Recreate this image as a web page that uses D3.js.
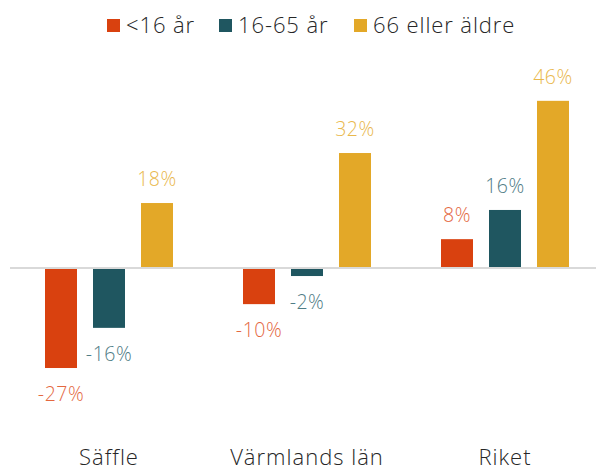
<!DOCTYPE html>
<html><head><meta charset="utf-8">
<script src="https://cdn.jsdelivr.net/npm/d3@7"></script>
<style>
html,body{margin:0;padding:0;background:#fff;}
svg{display:block;font-family:"Open Sans","Noto Sans",sans-serif;font-weight:300;}
</style></head>
<body><svg id="c" width="596" height="470"></svg>
<script>
const categories = ["Säffle", "Värmlands län", "Riket"];
const seriesNames = ["<16 år", "16-65 år", "66 eller äldre"];
const under16 = [-27.4, -9.9, 7.9];
const age16to65 = [-16.4, -2.2, 15.9];
const age66plus = [17.8, 31.5, 45.8];
const seriesValues = [under16, age16to65, age66plus];
const colors = ["#d9410f", "#1f5660", "#e3a828"];
const labelColors = ["#e4683f", "#4f7c85", "#e9b84c"];

const svg = d3.select("#c");
const y = d3.scaleLinear().domain([-30, 50]).range([268 + 30 * 3.65, 268 - 50 * 3.65]);
const x0 = d3.scaleBand().domain(categories).range([10, 604]).padding(0);
const x1 = d3.scaleBand().domain(d3.range(3)).range([27, 171]).paddingInner(1 / 3).paddingOuter(1 / 6);

// zero line
svg.append("line").attr("x1", 10).attr("x2", 596).attr("y1", y(0)).attr("y2", y(0))
  .attr("stroke", "#d9d9d9").attr("stroke-width", 2);

const rows = [];
categories.forEach((c, i) => seriesValues.forEach((s, j) => rows.push({c, j, v: s[i]})));

svg.append("g").selectAll("rect").data(rows).join("rect")
  .attr("x", d => x0(d.c) + x1(d.j))
  .attr("width", x1.bandwidth())
  .attr("y", d => d.v >= 0 ? y(d.v) : y(0) + 1)
  .attr("height", d => d.v >= 0 ? y(0) - 1 - y(d.v) : y(d.v) - y(0) - 1)
  .attr("fill", d => colors[d.j]);

svg.append("g").selectAll("text").data(rows).join("text")
  .attr("x", d => x0(d.c) + x1(d.j) + x1.bandwidth() / 2)
  .attr("y", d => d.v >= 0 ? y(d.v) - 17 : y(d.v) + 33)
  .attr("text-anchor", "middle")
  .attr("font-size", 19.5)
  .attr("letter-spacing", 0.5)
  .attr("fill", d => labelColors[d.j])
  .text(d => Math.round(d.v) + "%");

// category labels
svg.append("g").selectAll("text").data(categories).join("text")
  .attr("x", d => x0(d) + x0.bandwidth() / 2)
  .attr("y", 465)
  .attr("text-anchor", "middle")
  .attr("font-size", 22)
  .attr("letter-spacing", 1)
  .attr("fill", "#262626")
  .text(d => d);

// legend
const legX = [107, 219, 354];
const leg = svg.append("g").selectAll("g").data(seriesNames).join("g")
  .attr("transform", (d, i) => `translate(${legX[i]},19)`);
leg.append("rect").attr("width", 13).attr("height", 13).attr("fill", (d, i) => colors[i]);
leg.append("text").attr("x", 19).attr("y", 14).attr("font-size", 22).attr("letter-spacing", 0.9)
  .attr("fill", "#262626").text(d => d);
</script></body></html>
